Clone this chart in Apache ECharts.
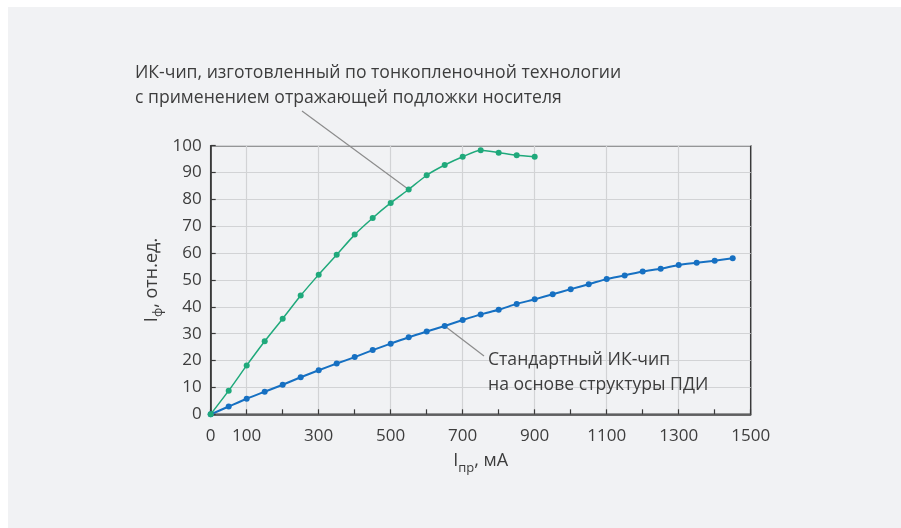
<!DOCTYPE html>
<html>
<head>
<meta charset="utf-8">
<script src="https://cdn.jsdelivr.net/npm/echarts@6/dist/echarts.min.js"></script>
<style>
  html, body { margin: 0; padding: 0; background: #ffffff; }
  #chart { width: 901px; height: 528px; }
</style>
</head>
<body>
<div id="chart"></div>
<script>
// Forward current, mA (thin-film chip with reflective carrier substrate)
const currentThinFilm = [0, 50, 100, 150, 200, 250, 300, 350, 400, 450, 500, 550, 600, 650, 700, 750, 800, 850, 900];
// Relative radiant flux, rel. units
const fluxThinFilm = [0, 8.8, 18.2, 27.2, 35.6, 44.2, 52.0, 59.4, 66.9, 73.1, 78.7, 83.7, 89.0, 92.8, 95.9, 98.3, 97.4, 96.4, 95.9];

// Forward current, mA (standard chip, double heterostructure)
const currentStandard = [0, 50, 100, 150, 200, 250, 300, 350, 400, 450, 500, 550, 600, 650, 700, 750, 800, 850, 900, 950, 1000, 1050, 1100, 1150, 1200, 1250, 1300, 1350, 1400, 1450];
const fluxStandard = [0, 2.9, 5.8, 8.4, 11.0, 13.8, 16.4, 18.9, 21.3, 23.9, 26.3, 28.7, 30.8, 32.9, 35.1, 37.2, 38.9, 41.1, 42.8, 44.7, 46.6, 48.4, 50.4, 51.7, 53.2, 54.2, 55.6, 56.4, 57.2, 58.1];

// Axis tick labels and vertical grid positions
const xTickLabels = [0, 100, 300, 500, 700, 900, 1100, 1300, 1500];
const xGridLines = [100, 300, 500, 700, 900, 1100, 1300];

// Annotation texts and the points their leader lines point to
const noteThinFilm = ['ИК-чип, изготовленный по тонкопленочной технологии', 'с применением отражающей подложки носителя'];
const noteStandard = ['Стандартный ИК-чип', 'на основе структуры ПДИ'];
const pointThinFilm = [550, 83.7];
const pointStandard = [650, 32.9];

const FONT = 'Open Sans';
const TEXT = '#3d3d3d';
const GREEN = '#1fa97b';
const BLUE = '#1670c2';

const pair = (xs, ys) => xs.map((x, i) => [x, ys[i]]);

const nameRich = {
  m: { fontFamily: FONT, fontSize: 18, color: TEXT, lineHeight: 26, verticalAlign: 'middle' },
  s: { fontFamily: FONT, fontSize: 13, color: TEXT, lineHeight: 26, verticalAlign: 'bottom', padding: [11, 0, 0, 0] }
};

const chart = echarts.init(document.getElementById('chart'), null, { renderer: 'canvas' });

const option = {
  backgroundColor: '#ffffff',
  animation: false,
  textStyle: { fontFamily: FONT },
  grid: {
    left: 210.7, right: 150.3, top: 145.7, bottom: 113.7,
    show: true, borderColor: '#3a3a3a', borderWidth: 1.5, backgroundColor: 'transparent'
  },
  xAxis: [
    {
      type: 'value', min: 0, max: 1500, interval: 100,
      axisLine: { show: true, lineStyle: { color: '#3a3a3a', width: 1.5 } },
      axisTick: { show: true, inside: true, length: 5, lineStyle: { color: '#3a3a3a', width: 1.2 } },
      splitLine: { show: false },
      axisLabel: {
        customValues: xTickLabels,
        formatter: v => String(v),
        color: TEXT, fontFamily: FONT, fontSize: 17, margin: 13
      },
      name: '{m|I}{s|пр}{m|, мА}',
      nameLocation: 'middle', nameGap: 34,
      nameTextStyle: { fontFamily: FONT, fontSize: 18, color: TEXT, rich: nameRich }
    },
    {
      type: 'value', min: 0, max: 1500, position: 'top',
      axisLine: { show: false }, axisLabel: { show: false },
      axisTick: { show: false, customValues: xGridLines },
      splitLine: { show: true, lineStyle: { color: '#d2d3d5', width: 1.2 } }
    }
  ],
  yAxis: {
    type: 'value', min: 0, max: 100, interval: 10,
    axisLine: { show: true, lineStyle: { color: '#3a3a3a', width: 1.5 } },
    axisTick: { show: true, inside: true, length: 5, lineStyle: { color: '#3a3a3a', width: 1.2 } },
    splitLine: { show: true, lineStyle: { color: '#d2d3d5', width: 1.2 } },
    axisLabel: { color: TEXT, fontFamily: FONT, fontSize: 17, margin: 9 },
    name: '{m|I}{s|ф}{m|, отн.ед.}',
    nameLocation: 'middle', nameGap: 46, nameRotate: 90, nameMoveOverlap: false,
    nameTextStyle: { fontFamily: FONT, fontSize: 18, color: TEXT, rich: nameRich }
  },
  series: [
    {
      name: 'standard', type: 'line', xAxisIndex: 0,
      data: pair(currentStandard, fluxStandard),
      smooth: 0.2, symbol: 'circle', symbolSize: 6,
      lineStyle: { color: BLUE, width: 2 },
      itemStyle: { color: BLUE },
      z: 3
    },
    {
      name: 'thinfilm', type: 'line', xAxisIndex: 0,
      data: pair(currentThinFilm, fluxThinFilm),
      smooth: 0.2, symbol: 'circle', symbolSize: 6,
      lineStyle: { color: GREEN, width: 1.5 },
      itemStyle: { color: GREEN },
      z: 4
    }
  ]
};

chart.setOption(option);

// Page panel, annotations and their leader lines
const tipThin = chart.convertToPixel({ gridIndex: 0 }, pointThinFilm);
const tipStd = chart.convertToPixel({ gridIndex: 0 }, pointStandard);
const noteStyle = { fontFamily: FONT, fontSize: 17.6, fill: TEXT, verticalAlign: 'middle', align: 'left' };

chart.setOption({
  graphic: [
    { type: 'rect', shape: { x: 8, y: 7, width: 893, height: 521 }, style: { fill: '#f1f2f4' }, z: -10, silent: true },
    { type: 'text', x: 135, y: 73, style: Object.assign({ text: noteThinFilm[0] }, noteStyle), z: 10 },
    { type: 'text', x: 135, y: 98, style: Object.assign({ text: noteThinFilm[1] }, noteStyle), z: 10 },
    { type: 'text', x: 488, y: 360, style: Object.assign({ text: noteStandard[0] }, noteStyle), z: 10 },
    { type: 'text', x: 488, y: 385, style: Object.assign({ text: noteStandard[1] }, noteStyle), z: 10 },
    { type: 'line', shape: { x1: 302, y1: 111, x2: tipThin[0], y2: tipThin[1] }, style: { stroke: '#8c8c8c', lineWidth: 1.2 }, z: 2 },
    { type: 'line', shape: { x1: 484, y1: 356, x2: tipStd[0], y2: tipStd[1] }, style: { stroke: '#8c8c8c', lineWidth: 1.2 }, z: 2 }
  ]
});
</script>
</body>
</html>
